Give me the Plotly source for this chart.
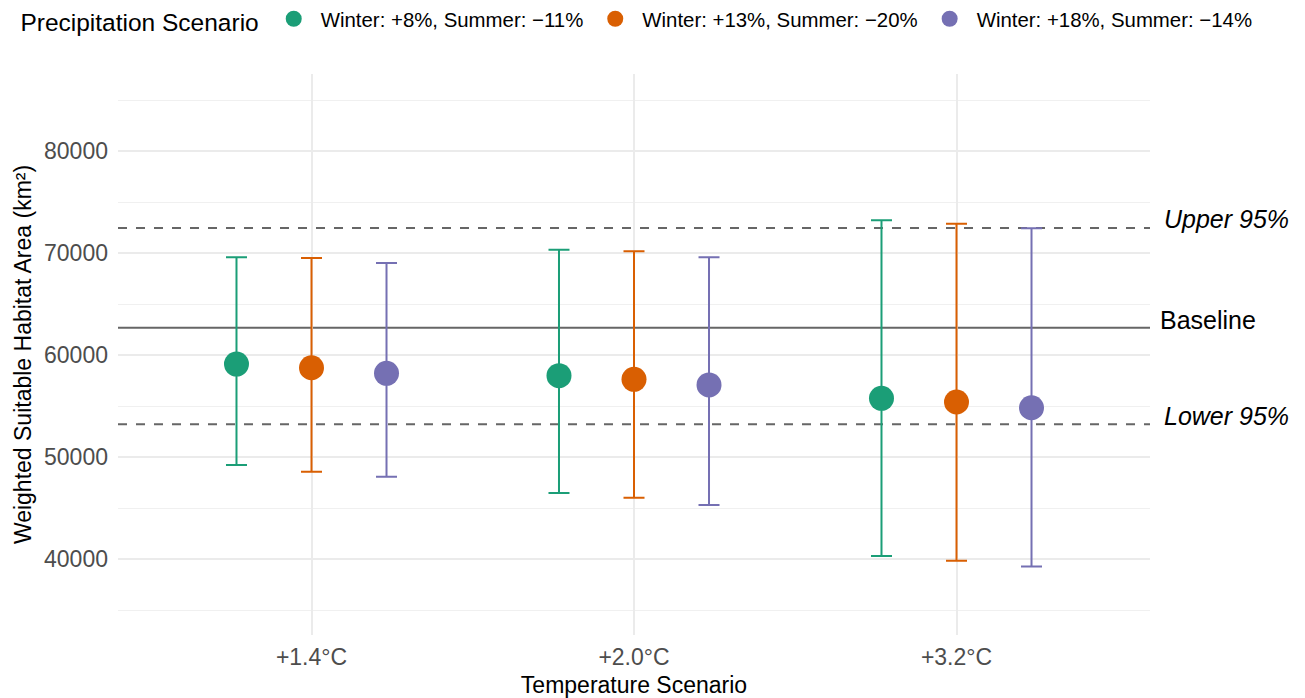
import plotly.graph_objects as go

# ---- data ----
temps = ["+1.4°C", "+2.0°C", "+3.2°C"]
scenarios = ["Winter: +8%, Summer: \u221211%",
             "Winter: +13%, Summer: \u221220%",
             "Winter: +18%, Summer: \u221214%"]
colors = ["#1B9E77", "#D95F02", "#7570B3"]

mean_s1 = [59130, 57990, 55770]
lower_s1 = [49240, 46500, 40320]
upper_s1 = [69590, 70330, 73210]

mean_s2 = [58770, 57630, 55410]
lower_s2 = [48580, 46030, 39860]
upper_s2 = [69520, 70180, 72880]

mean_s3 = [58220, 57080, 54850]
lower_s3 = [48090, 45320, 39280]
upper_s3 = [69030, 69590, 72430]

baseline = 62690
upper95 = 72450
lower95 = 53220

means = [mean_s1, mean_s2, mean_s3]
lowers = [lower_s1, lower_s2, lower_s3]
uppers = [upper_s1, upper_s2, upper_s3]

FONT = "Liberation Sans, Arial, sans-serif"
dodge = 0.2326

fig = go.Figure()
for i, (name, col) in enumerate(zip(scenarios, colors)):
    xs = [k + 1 + (i - 1) * dodge for k in range(len(temps))]
    m = means[i]
    fig.add_trace(go.Scatter(
        x=xs, y=m, mode="markers", name=name,
        marker=dict(color=col, size=25, line=dict(width=0)),
        error_y=dict(type="data", symmetric=False,
                     array=[u - v for u, v in zip(uppers[i], m)],
                     arrayminus=[v - l for v, l in zip(m, lowers[i])],
                     color=col, thickness=2, width=10.5),
    ))

# reference lines
for val, dash in [(baseline, "solid"), (upper95, "dash"), (lower95, "dash")]:
    fig.add_shape(type="line", xref="paper", x0=0, x1=1, yref="y", y0=val, y1=val,
                  line=dict(color="#666666", width=2, dash=dash), layer="below")

ann_font = dict(family=FONT, size=25, color="#000000")
fig.add_annotation(x=1, xref="paper", y=upper95, yref="y", text="<i>Upper 95%</i>",
                   showarrow=False, xanchor="left", xshift=12, yshift=9, font=ann_font)
fig.add_annotation(x=1, xref="paper", y=baseline, yref="y", text="Baseline",
                   showarrow=False, xanchor="left", xshift=8, yshift=8, font=ann_font)
fig.add_annotation(x=1, xref="paper", y=lower95, yref="y", text="<i>Lower 95%</i>",
                   showarrow=False, xanchor="left", xshift=12, yshift=8, font=ann_font)

fig.update_layout(
    width=1305, height=698,
    margin=dict(l=118, r=155, t=74, b=63, autoexpand=False),
    paper_bgcolor="white", plot_bgcolor="white",
    font=dict(family=FONT, color="#000000"),
    showlegend=True,
    legend=dict(
        orientation="h", x=0.0141, y=1 - 20 / 698, xref="container", yref="container",
        xanchor="left", yanchor="middle",
        title=dict(text="Precipitation Scenario", font=dict(size=24.5, family=FONT, color="#000000")),
        font=dict(size=20.4, family=FONT, color="#000000"),
        itemwidth=44, bgcolor="rgba(0,0,0,0)",
    ),
    xaxis=dict(
        range=[0.4, 3.6], tickmode="array", tickvals=[1, 2, 3], ticktext=temps,
        showgrid=True, gridcolor="#EBEBEB", gridwidth=2, zeroline=False, showline=False,
        ticks="", tickfont=dict(size=23, family=FONT, color="#4D4D4D"),
        ticklabelstandoff=6, automargin=False,
        title=dict(text="Temperature Scenario", font=dict(size=23, family=FONT, color="#000000"),
                   standoff=7),
    ),
    yaxis=dict(
        range=[32580, 87550], tickmode="array",
        tickvals=[40000, 50000, 60000, 70000, 80000],
        ticktext=["40000", "50000", "60000", "70000", "80000"],
        showgrid=True, gridcolor="#EBEBEB", gridwidth=2, zeroline=False, showline=False,
        minor=dict(tickvals=[35000, 45000, 55000, 65000, 75000, 85000], showgrid=True,
                   gridcolor="#F0F0F0", gridwidth=1.2),
        ticks="", tickfont=dict(size=23, family=FONT, color="#4D4D4D"),
        ticklabelstandoff=9, automargin=False,
        title=dict(text="Weighted Suitable Habitat Area (km²)",
                   font=dict(size=23, family=FONT, color="#000000"), standoff=5),
    ),
)

fig.write_html("out.html", config={"displayModeBar": False},
               post_script="document.body.style.margin='0';document.body.style.padding='0';")
